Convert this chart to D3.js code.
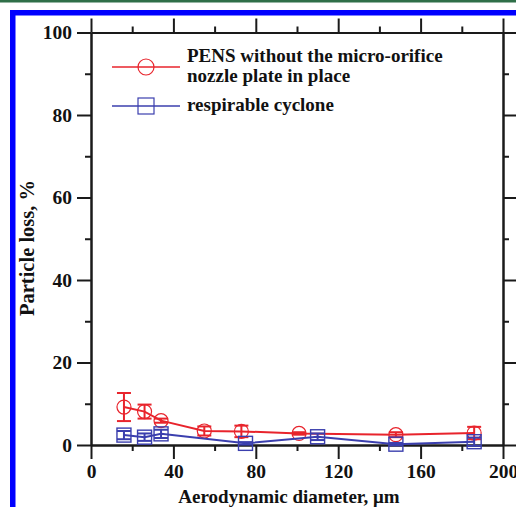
<!DOCTYPE html>
<html>
<head>
<meta charset="utf-8">
<script src="https://cdn.jsdelivr.net/npm/d3@7"></script>
<style>
html,body{margin:0;padding:0;background:#fff;}
svg{display:block;}
</style>
</head>
<body>
<svg id="chart" width="516" height="507"></svg>
<script>
// Data
const pensX   = [16, 26, 34, 55, 73, 101, 148, 186];
const pensY   = [9.2, 8.1, 5.9, 3.4, 3.3, 2.8, 2.5, 2.9];
const pensErr = [3.4, 1.7, 0.5, 1.1, 1.4, 0.3, 0.6, 1.5];

const cycX   = [16, 26, 34, 75, 110, 148, 186];
const cycY   = [2.4, 1.9, 2.7, 0.4, 2.0, 0.2, 0.8];
const cycErr = [1.0, 0.9, 1.0, 0.3, 0.8, 0.3, 1.0];

const xMajorTicks = [0, 40, 80, 120, 160, 200];
const xMinorTicks = [20, 60, 100, 140, 180];
const yMajorTicks = [0, 20, 40, 60, 80, 100];
const yMinorTicks = [10, 30, 50, 70, 90];

const legendLabels = [["PENS without the micro-orifice", "nozzle plate in place"], ["respirable cyclone"]];
const xTitle = "Aerodynamic diameter, \u03bcm";
const yTitle = "Particle loss, %";

const RED = "#e8242c";
const BLUE = "#3b3fae";
const FONT = "'Liberation Serif', 'Times New Roman', serif";

const svg = d3.select("#chart");

// frame decorations
svg.append("rect").attr("x", 0).attr("y", 0).attr("width", 516).attr("height", 2.5).attr("fill", "#2f6f48");
svg.append("rect").attr("x", 12.75).attr("y", 12.75).attr("width", 530).attr("height", 530)
  .attr("fill", "none").attr("stroke", "#0000ff").attr("stroke-width", 5.5);

const L = 91, R = 503, T = 32.5, B = 445;
const x = d3.scaleLinear().domain([0, 200]).range([L, R]);
const y = d3.scaleLinear().domain([0, 100]).range([B, T]);

const axisColor = "#1a1a1a";
const MAJ = 14, MIN = 6;

function styleAxis(g) {
  g.select(".domain").attr("stroke", axisColor).attr("stroke-width", 2);
  g.selectAll(".tick line").attr("stroke", axisColor).attr("stroke-width", 2);
  g.selectAll("text").attr("font-family", FONT).attr("font-weight", "bold").attr("font-size", 19.5).attr("fill", "#111");
}

// bottom
const gB = svg.append("g").attr("transform", `translate(0,${B})`);
gB.call(d3.axisBottom(x).tickValues(xMajorTicks).tickSize(MAJ).tickSizeOuter(0).tickPadding(5).tickFormat(d3.format("d")));
styleAxis(gB);
const gBm = svg.append("g").attr("transform", `translate(0,${B})`);
gBm.call(d3.axisBottom(x).tickValues(xMinorTicks).tickSize(MIN).tickSizeOuter(0).tickFormat(""));
styleAxis(gBm);

// top
const gT = svg.append("g").attr("transform", `translate(0,${T})`);
gT.call(d3.axisTop(x).tickValues(xMajorTicks).tickSize(MAJ).tickSizeOuter(0).tickFormat(""));
styleAxis(gT);
const gTm = svg.append("g").attr("transform", `translate(0,${T})`);
gTm.call(d3.axisTop(x).tickValues(xMinorTicks).tickSize(MIN).tickSizeOuter(0).tickFormat(""));
styleAxis(gTm);

// left
const gL = svg.append("g").attr("transform", `translate(${L},0)`);
gL.call(d3.axisLeft(y).tickValues(yMajorTicks).tickSize(MAJ).tickSizeOuter(0).tickPadding(5).tickFormat(d3.format("d")));
styleAxis(gL);
const gLm = svg.append("g").attr("transform", `translate(${L},0)`);
gLm.call(d3.axisLeft(y).tickValues(yMinorTicks).tickSize(MIN).tickSizeOuter(0).tickFormat(""));
styleAxis(gLm);

// right
const gR = svg.append("g").attr("transform", `translate(${R},0)`);
gR.call(d3.axisRight(y).tickValues(yMajorTicks).tickSize(MAJ).tickSizeOuter(0).tickFormat(""));
styleAxis(gR);
const gRm = svg.append("g").attr("transform", `translate(${R},0)`);
gRm.call(d3.axisRight(y).tickValues(yMinorTicks).tickSize(MIN).tickSizeOuter(0).tickFormat(""));
styleAxis(gRm);

// axis titles
svg.append("text").attr("x", 289).attr("y", 503).attr("text-anchor", "middle")
  .attr("font-family", FONT).attr("font-weight", "bold").attr("font-size", 19).attr("fill", "#111").text(xTitle);
svg.append("text").attr("transform", `translate(34,248) rotate(-90)`).attr("text-anchor", "middle")
  .attr("font-family", FONT).attr("font-weight", "bold").attr("font-size", 20.5).attr("fill", "#111").text(yTitle);

// series
function drawSeries(xs, ys, es, color, shape) {
  const data = xs.map((d, i) => ({x: d, y: ys[i], e: es[i]}));
  const g = svg.append("g");
  g.append("path").datum(data)
    .attr("d", d3.line().x(d => x(d.x)).y(d => y(d.y)))
    .attr("fill", "none").attr("stroke", color).attr("stroke-width", 2);
  const eb = g.selectAll(".eb").data(data).enter().append("g");
  eb.append("line").attr("x1", d => x(d.x)).attr("x2", d => x(d.x))
    .attr("y1", d => y(d.y + d.e)).attr("y2", d => y(d.y - d.e)).attr("stroke", color).attr("stroke-width", 2);
  eb.append("line").attr("x1", d => x(d.x) - 7).attr("x2", d => x(d.x) + 7)
    .attr("y1", d => y(d.y + d.e)).attr("y2", d => y(d.y + d.e)).attr("stroke", color).attr("stroke-width", 2);
  eb.append("line").attr("x1", d => x(d.x) - 7).attr("x2", d => x(d.x) + 7)
    .attr("y1", d => y(d.y - d.e)).attr("y2", d => y(d.y - d.e)).attr("stroke", color).attr("stroke-width", 2);
  if (shape === "circle") {
    g.selectAll(".m").data(data).enter().append("circle")
      .attr("cx", d => x(d.x)).attr("cy", d => y(d.y)).attr("r", 7)
      .attr("fill", "none").attr("stroke", color).attr("stroke-width", 1.2);
  } else {
    g.selectAll(".m").data(data).enter().append("rect")
      .attr("x", d => x(d.x) - 7).attr("y", d => y(d.y) - 7).attr("width", 14).attr("height", 14)
      .attr("fill", "none").attr("stroke", color).attr("stroke-width", 1.4);
  }
}
drawSeries(pensX, pensY, pensErr, RED, "circle");
drawSeries(cycX, cycY, cycErr, BLUE, "square");

// legend
const lg = svg.append("g");
const legendRows = [
  {color: RED, shape: "circle", ly: 67, lines: legendLabels[0], ty: 62},
  {color: BLUE, shape: "square", ly: 106, lines: legendLabels[1], ty: 111}
];
legendRows.forEach(r => {
  lg.append("line").attr("x1", 112).attr("x2", 180).attr("y1", r.ly).attr("y2", r.ly)
    .attr("stroke", r.color).attr("stroke-width", 1.5);
  if (r.shape === "circle") {
    lg.append("circle").attr("cx", 146).attr("cy", r.ly).attr("r", 8)
      .attr("fill", "none").attr("stroke", r.color).attr("stroke-width", 1.2);
  } else {
    lg.append("rect").attr("x", 138).attr("y", r.ly - 8).attr("width", 16).attr("height", 16)
      .attr("fill", "none").attr("stroke", r.color).attr("stroke-width", 1.2);
  }
  r.lines.forEach((t, i) => {
    lg.append("text").attr("x", 187).attr("y", r.ty + i * 20)
      .attr("font-family", FONT).attr("font-weight", "bold").attr("font-size", 19).attr("fill", "#111").text(t);
  });
});
</script>
</body>
</html>
